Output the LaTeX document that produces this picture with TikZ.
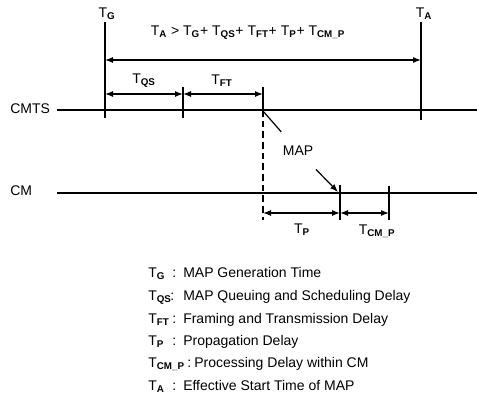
\documentclass[tikz,border=0pt]{standalone}
\usepackage{fontspec}
\setmainfont{Liberation Sans}
\usetikzlibrary{arrows.meta,calc}
\newcommand\Tx[1]{T\textsubscript{\textbf{#1}}}
\begin{document}
\begin{tikzpicture}[x=0.75pt,y=-0.75pt,
  lbl/.style={inner sep=0pt,font=\fontsize{10.5}{12.5}\selectfont},
  axisline/.style={line width=1.9pt},
  tickline/.style={line width=0.9pt},
  dimline/.style={line width=0.9pt,{Latex[length=6pt,width=4.5pt]}-{Latex[length=6pt,width=4.5pt]}},
  maparrow/.style={line width=0.9pt},
  dashline/.style={line width=0.9pt,dash pattern=on 5pt off 3pt}]
\useasboundingbox (0,0) rectangle (477,393);
% axes
\coordinate (cmtsL) at (57,110); \coordinate (cmtsR) at (477,110);
\coordinate (cmL) at (57,193); \coordinate (cmR) at (477,193);
\node[lbl,anchor=west] (cmts) at (10,109) {CMTS};
\node[lbl,anchor=west] (cm) at (10,191) {CM};
\draw[axisline] (cmtsL) -- (cmtsR);
\draw[axisline] (cmL) -- (cmR);
% ticks
\coordinate (tgT) at (105,22); \coordinate (tgB) at (105,118);
\coordinate (taT) at (421,22); \coordinate (taB) at (421,120);
\coordinate (qsT) at (183,87); \coordinate (qsB) at (183,118);
\coordinate (ftT) at (263,87); \coordinate (ftM) at (263,110); \coordinate (ftB) at (263,220);
\coordinate (pT) at (340,185); \coordinate (pB) at (340,220);
\coordinate (cpT) at (389,186); \coordinate (cpB) at (389,220);
\draw[tickline] (tgT) -- (tgB);
\draw[tickline] (taT) -- (taB);
\draw[tickline] (qsT) -- (qsB);
\draw[tickline] (ftT) -- (ftM);
\draw[dashline] (ftM) -- (ftB);
\draw[tickline] (pT) -- (pB);
\draw[tickline] (cpT) -- (cpB);
% dimension arrows
\coordinate (a1) at (105,60); \coordinate (a2) at (421,60);
\coordinate (b1) at (105,94); \coordinate (b2) at (183,94); \coordinate (b3) at (263,94);
\coordinate (c1) at (263,213); \coordinate (c2) at (340,213); \coordinate (c3) at (389,213);
\draw[dimline] (a1) -- (a2);
\draw[dimline] (b1) -- (b2);
\draw[dimline] (b2) -- (b3);
\draw[dimline] (c1) -- (c2);
\draw[dimline] (c2) -- (c3);
% labels
\node[lbl] (tg) at (107,14) {\Tx{G}};
\node[lbl] (ta) at (424,14) {\Tx{A}};
\node[lbl] (formula) at (248,33) {\Tx{A} > \Tx{G}+ \Tx{QS}+ \Tx{FT}+ \Tx{P}+ \Tx{CM\_P}};
\node[lbl] (tqs) at (144,81) {\Tx{QS}};
\node[lbl] (tft) at (222,81) {\Tx{FT}};
\node[lbl] (tp) at (302,230) {\Tx{P}};
\node[lbl] (tcmp) at (377,231) {\Tx{CM\_P}};
% MAP arrow
\node[lbl] (map) at (298,151) {MAP};
\coordinate (mapS) at (263,111);
\coordinate (mapE) at (338,192);
\draw[maparrow,shorten >=14pt] (mapS) -- (map);
\draw[maparrow,-{Latex[length=6pt,width=4.5pt]},shorten <=14pt] (map) -- (mapE);
% legend
\foreach \i/\y/\s/\cx/\tx/\txt in {
  1/272/G/172/183/MAP Generation Time,
  2/295/QS/170/183/MAP Queuing and Scheduling Delay,
  3/318/FT/172/183/Framing and Transmission Delay,
  4/340/P/172/183/Propagation Delay,
  5/362/CM\_P/187/194/Processing Delay within CM,
  6/385/A/172/183/Effective Start Time of MAP}{
  \node[lbl,anchor=base west] (lgT\i) at (148,\y+5) {\Tx{\s}};
  \node[lbl,anchor=base west] (lgC\i) at (\cx,\y+5) {:};
  \node[lbl,anchor=base west] (lgD\i) at (\tx,\y+5) {\txt};
}
\end{tikzpicture}
\end{document}
